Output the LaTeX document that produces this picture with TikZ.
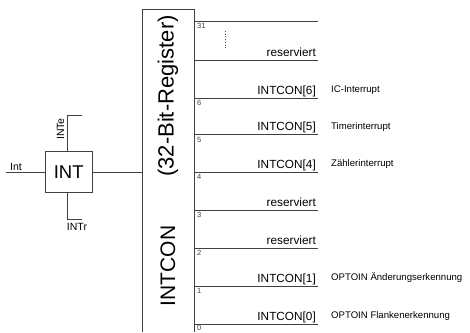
\documentclass[tikz,border=0pt]{standalone}
\usepackage{fontspec}
\setmainfont{Liberation Sans}
\begin{document}
\begin{tikzpicture}[x=1pt,y=-1pt,
  ln/.style={line width=0.8pt, draw=black!75},
  fld/.style={anchor=base east, font=\fontsize{11.8}{13}\selectfont, inner sep=0pt},
  bitn/.style={anchor=north west, font=\fontsize{7.5}{8}\selectfont, inner sep=0pt, text=black!75},
  expl/.style={anchor=base west, font=\fontsize{9.6}{11}\selectfont, inner sep=0pt},
  sig/.style={font=\fontsize{10.5}{12}\selectfont, inner sep=0pt},
  big/.style={rotate=90, font=\fontsize{21}{24}\selectfont, inner sep=0pt}]
\useasboundingbox (0,0) rectangle (470,332);
% register box
\coordinate (bl) at (142.5,332);
\coordinate (tl) at (142.5,9);
\coordinate (tr) at (194,9);
\coordinate (br) at (194,332);
\draw[ln] (bl) -- (tl) -- (tr) -- (br);
\node[big] (regname) at (168,266) {INTCON};
\node[big, font=\fontsize{22}{26}\selectfont] (regsize) at (168,96) {(32-Bit-Register)};
% field lines
\foreach \y/\n in {21/l0,60/l1,98/l2,134.5/l3,172/l4,210/l5,248/l6,286/l7,324/l8}{
  \coordinate (\n a) at (194,\y);
  \coordinate (\n b) at (318,\y);
  \draw[ln] (\n a) -- (\n b);
}
% bit numbers
\node[bitn] (b31) at (197,23) {31};
\node[bitn] (b6) at (197,100.5) {6};
\node[bitn] (b5) at (197,137) {5};
\node[bitn] (b4) at (197,174.5) {4};
\node[bitn] (b3) at (197,212.5) {3};
\node[bitn] (b2) at (197,250.5) {2};
\node[bitn] (b1) at (197,288.5) {1};
\node[bitn] (b0) at (197,325.5) {0};
\coordinate (d1) at (225,31);
\coordinate (d2) at (225,49);
\draw[black!70, dotted, line width=0.7pt] (d1) -- (d2);
% fields
\node[fld] (f7) at (316,56) {reserviert};
\node[fld] (f6) at (316,94) {INTCON[6]};
\node[fld] (f5) at (316,130.5) {INTCON[5]};
\node[fld] (f4) at (316,168) {INTCON[4]};
\node[fld] (f3) at (316,206) {reserviert};
\node[fld] (f2) at (316,244) {reserviert};
\node[fld] (f1) at (316,282) {INTCON[1]};
\node[fld] (f0) at (316,320) {INTCON[0]};
% explanations
\node[expl] (e6) at (331,92.5) {IC-Interrupt};
\node[expl] (e5) at (331,129) {Timerinterrupt};
\node[expl] (e4) at (331,166.5) {Zählerinterrupt};
\node[expl] (e1) at (331,280.5) {OPTOIN Änderungserkennung};
\node[expl] (e0) at (331,318.5) {OPTOIN Flankenerkennung};
% INT block
\node[draw=black!75, line width=0.8pt, minimum width=47.5pt, minimum height=40.5pt, inner sep=0pt,
  font=\fontsize{18.5}{22}\selectfont] (int) at (68.75,171.75) {INT};
\coordinate (in) at (6,172);
\draw[ln] (in) -- (int.west |- in);
\node[sig, anchor=base west] (inl) at (10,170) {Int};
\coordinate (regL) at (142.5,172);
\draw[ln] (int.east |- regL) -- (regL);
\coordinate (te) at (67,115);
\coordinate (tee) at (82,115);
\draw[ln] (te |- int.north) -- (te) -- (tee);
\node[sig, rotate=90] (tel) at (60.5,129) {INTe};
\coordinate (tr2) at (67,219);
\coordinate (tre) at (82,219);
\draw[ln] (tr2 |- int.south) -- (tr2) -- (tre);
\node[sig] (trl) at (77,227) {INTr};
\end{tikzpicture}
\end{document}
